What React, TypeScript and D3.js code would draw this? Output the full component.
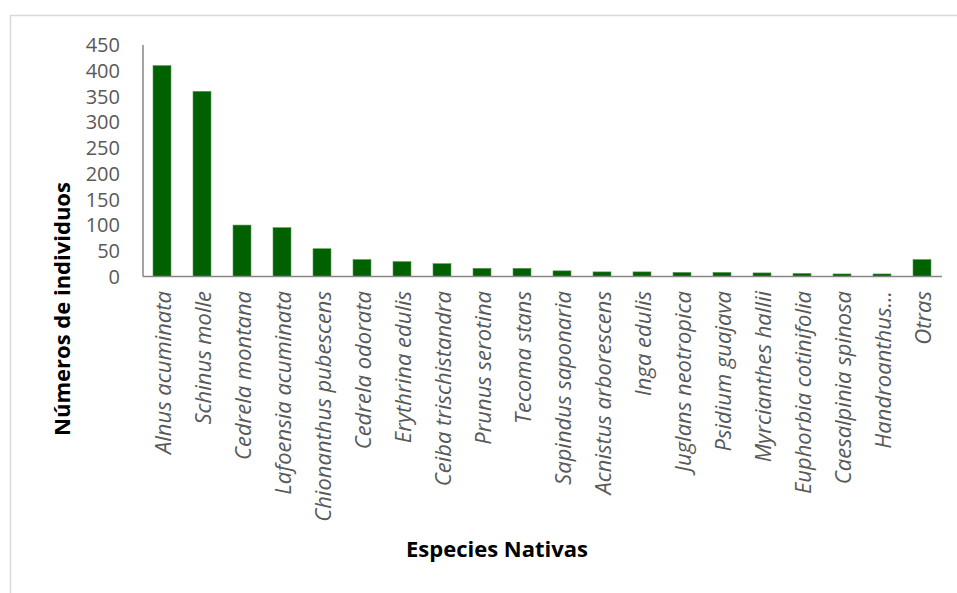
import React from "react";
import * as d3 from "d3";

const categories = [
  "Alnus acuminata",
  "Schinus molle",
  "Cedrela montana",
  "Lafoensia acuminata",
  "Chionanthus pubescens",
  "Cedrela odorata",
  "Erythrina edulis",
  "Ceiba trischistandra",
  "Prunus serotina",
  "Tecoma stans",
  "Sapindus saponaria",
  "Acnistus arborescens",
  "Inga edulis",
  "Juglans neotropica",
  "Psidium guajava",
  "Myrcianthes hallii",
  "Euphorbia cotinifolia",
  "Caesalpinia spinosa",
  "Handroanthus...",
  "Otras",
];
const values = [410, 360, 100, 95, 54, 33, 29, 25, 16, 16, 11, 9, 9, 8, 8, 7, 6, 5, 5, 33];
const yTicks = [0, 50, 100, 150, 200, 250, 300, 350, 400, 450];
const xTitle = "Especies Nativas";
const yTitle = "Números de individuos";

const W = 957;
const H = 593;
const left = 143;
const right = 942;
const top = 45;
const bottom = 276.5;

export default function App() {
  const x = d3.scaleBand<string>().domain(categories).range([left - 1, left - 1 + 40 * categories.length]).padding(0);
  const y = d3.scaleLinear().domain([0, 450]).range([bottom, top]);
  const bw = x.step() * 0.45;
  const font = "'Open Sans', sans-serif";
  return (
    <svg width={W} height={H} style={{ position: "absolute", left: 0, top: 0 }}>
      <rect x={0} y={0} width={W} height={H} fill="#fff" />
      <rect x={10.5} y={15.5} width={W + 10} height={H + 10} fill="none" stroke="#d9d9d9" strokeWidth={1.5} />
      {categories.map((c, i) => (
        <rect
          key={c}
          x={(x(c) as number) + (x.step() - bw) / 2}
          y={y(values[i])}
          width={bw}
          height={bottom - y(values[i])}
          fill="#006100"
          stroke="#5d9c5d"
          strokeWidth={0.6}
        />
      ))}
      <line x1={left} x2={left} y1={top} y2={bottom} stroke="#868686" strokeWidth={1.5} />
      <line x1={left} x2={right} y1={bottom} y2={bottom} stroke="#868686" strokeWidth={1.5} />
      {yTicks.map((t) => (
        <text
          key={t}
          x={120}
          y={y(t)}
          dy="0.36em"
          textAnchor="end"
          fontFamily={font}
          fontSize={20}
          fill="#595959"
        >
          {t}
        </text>
      ))}
      {categories.map((c) => (
        <text
          key={c}
          transform={`translate(${(x(c) as number) + x.step() / 2 + 1},291) rotate(-90)`}
          dy="0.36em"
          textAnchor="end"
          fontFamily={font}
          fontStyle="italic"
          fontSize={22}
          fill="#595959"
        >
          {c}
        </text>
      ))}
      <text
        x={497}
        y={557}
        textAnchor="middle"
        fontFamily={font}
        fontWeight="bold"
        fontSize={22}
        fill="#000"
      >
        {xTitle}
      </text>
      <text
        transform={`translate(62,309) rotate(-90)`}
        dy="0.36em"
        textAnchor="middle"
        fontFamily={font}
        fontWeight="bold"
        fontSize={22}
        fill="#000"
      >
        {yTitle}
      </text>
    </svg>
  );
}
